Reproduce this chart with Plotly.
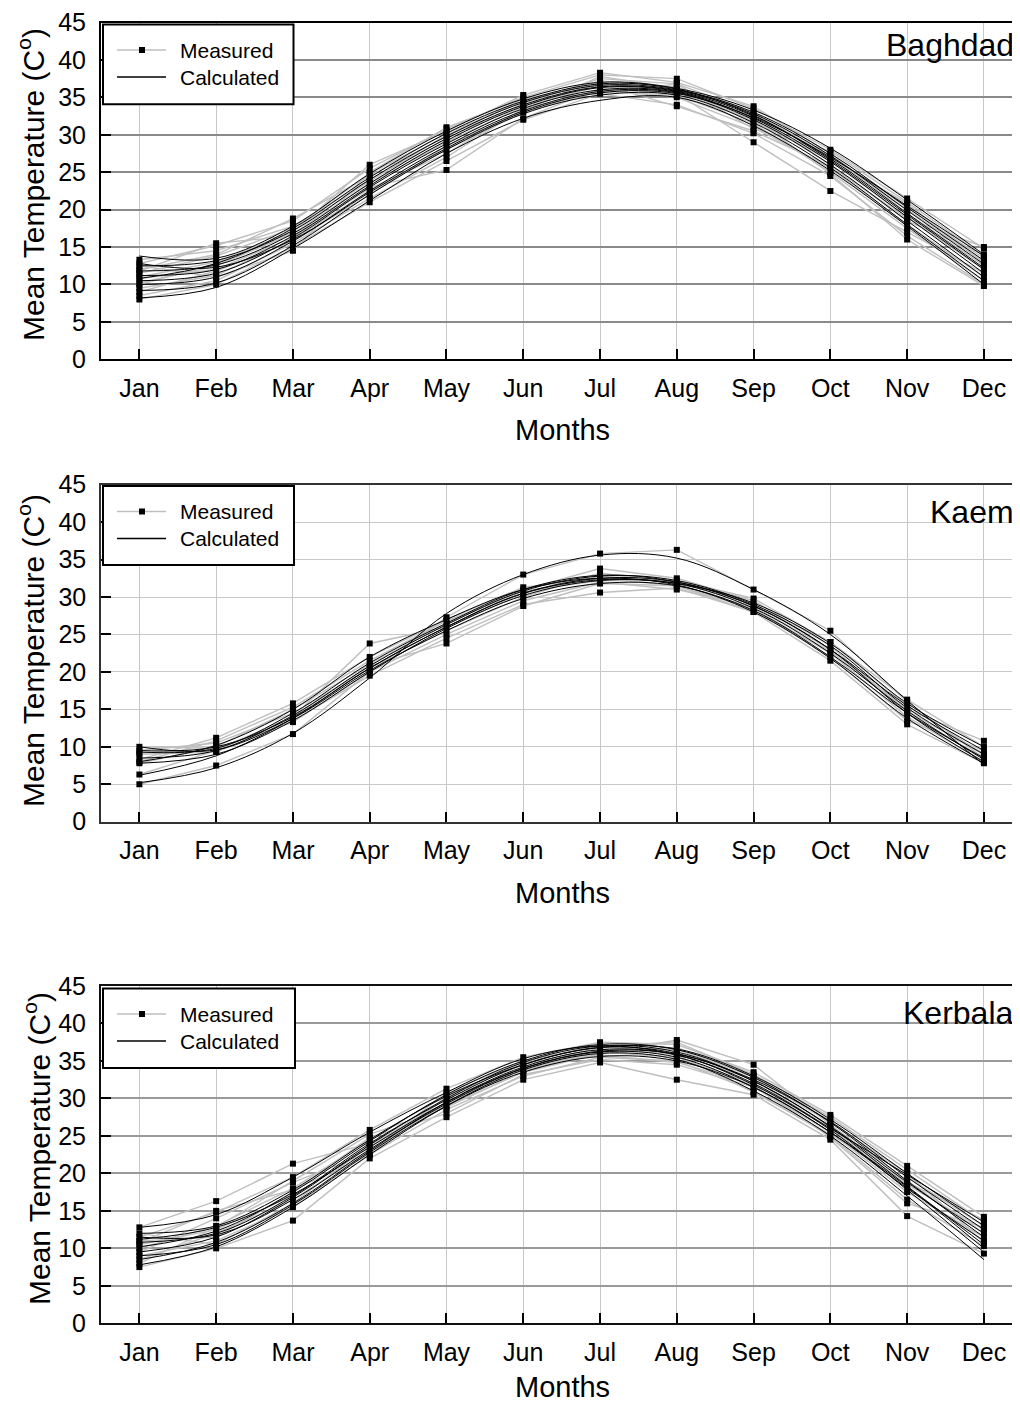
import plotly.graph_objects as go

# The page body has an 8px default margin; work in page pixels and convert.
OFF = 8
W, H = 1012, 1394
months = ["Jan", "Feb", "Mar", "Apr", "May", "Jun", "Jul", "Aug", "Sep", "Oct", "Nov", "Dec"]
month_idx = list(range(12))
stations = ["Baghdad", "Kaem", "Kerbala"]

# ---------------- Baghdad ----------------
baghdad_measured = [
    [10.2, 12.5, 16.8, 23.5, 29.0, 33.8, 36.5, 35.8, 32.0, 26.5, 19.0, 12.0],
    [11.5, 13.8, 17.5, 24.8, 30.2, 34.5, 37.2, 36.4, 32.8, 27.2, 20.3, 13.5],
    [8.0, 10.0, 15.0, 21.0, 26.5, 32.0, 35.5, 34.0, 30.2, 24.5, 16.5, 10.0],
    [12.8, 15.2, 18.5, 25.5, 30.8, 35.0, 38.0, 37.5, 33.5, 28.0, 21.5, 14.8],
    [9.5, 11.2, 16.0, 22.5, 28.0, 33.0, 36.0, 35.0, 31.0, 25.5, 18.0, 11.0],
    [13.3, 14.5, 17.8, 24.0, 29.5, 34.2, 37.5, 36.8, 33.0, 27.0, 20.0, 13.0],
    [10.8, 12.0, 16.3, 23.0, 25.3, 32.2, 36.2, 35.5, 29.0, 22.5, 17.0, 11.5],
    [11.0, 13.0, 17.0, 26.0, 30.5, 35.3, 38.3, 37.0, 33.8, 27.5, 19.5, 12.5],
    [8.5, 10.5, 15.5, 21.5, 27.0, 33.5, 35.8, 35.3, 31.5, 25.0, 17.5, 10.5],
    [12.0, 14.0, 18.8, 24.5, 29.8, 34.8, 36.8, 36.0, 32.5, 26.0, 18.5, 14.0],
    [9.0, 11.8, 15.8, 22.0, 28.5, 33.2, 37.8, 36.2, 31.8, 26.8, 20.8, 12.8],
    [10.0, 12.8, 17.2, 23.8, 30.0, 34.0, 36.8, 33.8, 30.5, 25.8, 18.8, 15.0],
    [11.8, 15.5, 16.5, 22.8, 27.5, 33.5, 37.0, 35.2, 32.2, 24.8, 16.0, 9.8],
    [12.5, 11.0, 14.5, 25.0, 31.0, 34.8, 35.5, 36.8, 30.8, 27.8, 21.0, 13.8],
]
baghdad_calculated = [
    [8.2, 9.6, 14.8, 21.2, 27.5, 32.2, 34.6, 35.0, 31.2, 25.2, 17.8, 10.0],
    [10.0, 11.0, 15.8, 22.5, 28.5, 33.2, 35.8, 35.6, 32.0, 26.0, 18.5, 11.0],
    [11.2, 12.0, 16.5, 23.2, 29.2, 33.8, 36.3, 35.8, 32.5, 26.8, 19.5, 12.2],
    [12.5, 13.2, 17.2, 24.0, 29.8, 34.3, 36.6, 36.0, 33.0, 27.5, 20.3, 13.2],
    [13.8, 13.5, 17.8, 24.8, 30.5, 34.8, 37.0, 36.2, 33.3, 28.2, 21.3, 14.0],
    [9.2, 10.2, 15.2, 22.0, 28.0, 32.8, 35.3, 35.3, 31.6, 25.6, 18.0, 10.5],
    [11.8, 12.6, 16.8, 23.5, 29.5, 34.0, 36.4, 35.9, 32.8, 27.2, 19.9, 12.7],
    [10.5, 11.5, 16.2, 23.0, 28.8, 33.5, 36.0, 35.7, 32.2, 26.4, 19.0, 11.5],
    [12.8, 12.3, 16.0, 22.3, 28.2, 33.0, 35.6, 35.5, 32.3, 27.0, 20.5, 13.8],
    [10.8, 12.8, 17.5, 24.3, 30.2, 34.5, 36.8, 36.1, 32.6, 26.6, 19.3, 12.0],
]

# ---------------- Kaem ----------------
kaem_measured = [
    [5.0, 7.5, 11.7, 20.0, 27.3, 33.0, 35.8, 36.3, 31.0, 25.5, 16.0, 8.5],
    [6.3, 9.5, 14.0, 23.8, 26.0, 30.5, 32.8, 32.0, 29.0, 24.0, 15.5, 9.0],
    [7.8, 10.0, 15.0, 21.0, 26.5, 31.0, 33.8, 32.5, 29.5, 23.5, 14.5, 8.5],
    [8.3, 11.2, 15.8, 22.0, 27.0, 31.3, 32.5, 31.5, 28.5, 22.5, 14.0, 8.0],
    [9.0, 9.3, 13.5, 19.5, 24.5, 29.0, 30.6, 31.2, 28.0, 21.5, 13.0, 7.8],
    [9.5, 10.5, 14.5, 20.5, 25.5, 30.0, 33.2, 31.8, 28.3, 22.0, 13.5, 9.5],
    [10.0, 9.8, 13.3, 20.0, 25.0, 29.5, 32.0, 31.0, 28.8, 23.0, 15.0, 10.8],
    [8.0, 10.8, 15.3, 21.5, 26.8, 30.8, 32.2, 32.2, 29.8, 24.0, 16.3, 10.0],
    [9.2, 9.6, 14.0, 20.8, 23.8, 28.8, 31.8, 31.5, 28.0, 22.8, 14.8, 9.0],
]
kaem_calculated = [
    [5.2, 7.2, 11.8, 19.2, 27.8, 33.0, 35.6, 35.2, 31.0, 25.0, 16.2, 7.6],
    [6.2, 8.8, 13.8, 20.5, 26.0, 30.5, 32.5, 32.0, 28.8, 23.0, 14.5, 8.0],
    [7.8, 9.0, 13.5, 20.0, 25.8, 30.2, 32.2, 31.8, 28.5, 22.5, 14.8, 8.3],
    [8.5, 9.5, 14.2, 20.8, 26.3, 30.8, 32.8, 32.2, 29.0, 23.5, 15.2, 9.0],
    [9.3, 9.8, 14.5, 21.2, 26.5, 31.0, 32.9, 32.0, 28.8, 23.0, 15.5, 9.5],
    [10.0, 9.6, 13.8, 20.2, 25.5, 29.8, 31.8, 31.5, 28.2, 22.0, 14.5, 8.5],
    [8.0, 10.2, 15.0, 22.0, 27.0, 31.0, 32.5, 31.6, 28.0, 21.8, 13.8, 7.8],
    [9.5, 10.0, 14.0, 20.5, 26.0, 30.5, 32.3, 31.8, 29.2, 23.8, 15.8, 10.0],
]

# ---------------- Kerbala ----------------
kerbala_measured = [
    [12.8, 16.3, 21.3, 24.0, 29.0, 33.5, 36.0, 37.8, 34.5, 26.5, 19.0, 12.0],
    [7.5, 10.0, 13.7, 22.0, 27.5, 32.5, 34.8, 32.5, 30.5, 24.5, 14.3, 9.3],
    [10.5, 12.5, 17.0, 23.5, 30.0, 34.0, 36.5, 36.0, 32.5, 26.0, 18.5, 12.5],
    [11.5, 14.8, 19.5, 25.8, 31.3, 35.5, 37.5, 37.2, 33.5, 27.8, 21.0, 14.2],
    [9.0, 11.0, 15.5, 22.5, 28.5, 33.0, 35.5, 35.0, 31.0, 25.0, 16.5, 10.3],
    [10.0, 13.0, 18.0, 24.5, 30.5, 34.5, 36.8, 36.5, 33.0, 27.0, 19.5, 13.0],
    [8.5, 12.0, 16.5, 23.0, 29.5, 33.8, 36.2, 35.5, 32.0, 26.0, 18.0, 11.0],
    [11.0, 11.5, 17.5, 24.8, 28.0, 33.2, 35.2, 34.5, 31.5, 25.5, 17.5, 11.5],
    [9.5, 14.0, 18.8, 22.8, 30.8, 35.0, 37.0, 37.5, 33.2, 27.5, 20.5, 13.5],
    [12.0, 10.5, 16.0, 23.8, 29.2, 34.2, 35.8, 34.8, 31.8, 24.8, 16.0, 12.8],
    [8.0, 12.8, 19.0, 25.2, 28.8, 33.6, 36.4, 36.8, 32.8, 26.8, 20.0, 10.8],
    [10.8, 15.0, 17.8, 22.5, 30.2, 34.8, 37.2, 35.8, 30.8, 25.2, 18.8, 13.8],
]
kerbala_calculated = [
    [7.8, 10.2, 15.5, 22.5, 29.0, 33.8, 36.0, 35.2, 31.0, 25.0, 17.0, 8.5],
    [8.5, 10.8, 16.0, 23.0, 29.5, 34.2, 36.5, 35.8, 31.8, 25.8, 17.8, 9.5],
    [9.5, 11.5, 16.8, 23.8, 30.0, 34.8, 37.0, 36.2, 32.3, 26.2, 18.3, 10.5],
    [10.2, 12.3, 17.5, 24.3, 30.5, 35.0, 37.2, 36.5, 32.8, 26.8, 19.0, 11.5],
    [11.5, 11.8, 16.5, 23.2, 29.3, 34.0, 36.3, 35.9, 32.5, 26.9, 19.5, 12.5],
    [12.0, 13.0, 17.8, 24.5, 30.3, 34.5, 36.8, 36.0, 32.3, 26.3, 18.8, 12.0],
    [12.8, 14.5, 19.5, 25.5, 30.8, 35.3, 37.0, 35.8, 32.0, 26.0, 19.8, 13.5],
    [9.0, 10.5, 15.8, 22.8, 29.0, 33.5, 35.6, 35.0, 31.5, 25.5, 18.0, 11.0],
    [10.8, 12.0, 17.0, 24.0, 29.8, 34.5, 36.8, 36.6, 33.0, 27.2, 20.0, 13.0],
    [11.2, 12.8, 17.2, 23.5, 29.5, 34.0, 36.2, 35.5, 31.5, 25.5, 18.2, 10.0],
]

measured_sets = [baghdad_measured, kaem_measured, kerbala_measured]
calculated_sets = [baghdad_calculated, kaem_calculated, kerbala_calculated]

FONT = "Liberation Sans, Arial, sans-serif"


def px(p):  # page x pixel -> paper
    return (p - OFF) / W


def py(p):  # page y pixel -> paper
    return 1 - (p - OFF) / H


# panel pixel geometry in page px (top, bottom of plot area)
panels = [(22.5, 359.3), (484.7, 821.7), (986.0, 1323.3)]
hgrid_colors = ["#8a8a8a", "#c8c8c8", "#9a9a9a"]
hgrid_widths = [2, 1, 1.5]
axis_line_colors = ["#000000", "#333333", "#111111"]
axis_line_widths = [2, 1.5, 2]
months_title_y = [430, 893, 1387]
ytitle_center = [(31, 185), (31, 651), (37, 1149)]
station_y = [45, 512, 1013]
legend_boxes = [(103, 24.5, 293.5, 104.3), (103, 486, 294, 565), (103, 988.5, 295, 1068)]

fig = go.Figure()

for i in range(3):
    xa = "x" if i == 0 else f"x{i+1}"
    ya = "y" if i == 0 else f"y{i+1}"
    for j, vals in enumerate(measured_sets[i]):
        fig.add_trace(go.Scatter(
            x=month_idx, y=vals, mode="lines+markers", name="Measured",
            line=dict(color="#bfbfbf", width=1.4),
            marker=dict(symbol="square", size=6, color="black"),
            xaxis=xa, yaxis=ya, showlegend=False, hoverinfo="skip",
        ))
    for j, vals in enumerate(calculated_sets[i]):
        fig.add_trace(go.Scatter(
            x=month_idx, y=vals, mode="lines", name="Calculated",
            line=dict(color="black", width=1.0, shape="spline", smoothing=1.0),
            xaxis=xa, yaxis=ya, showlegend=False, hoverinfo="skip",
        ))

layout = dict(
    width=W, height=H,
    margin=dict(l=0, r=0, t=0, b=0, pad=0, autoexpand=False),
    paper_bgcolor="white", plot_bgcolor="white",
    font=dict(family=FONT, color="black"),
    showlegend=False,
)

annotations = []
shapes = []
for i in range(3):
    top, bot = panels[i]
    xk = "xaxis" if i == 0 else f"xaxis{i+1}"
    yk = "yaxis" if i == 0 else f"yaxis{i+1}"
    layout[xk] = dict(
        domain=[px(101), 1.0], range=[-0.5, 11.47],
        tickmode="array", tickvals=month_idx, ticktext=months,
        ticks="inside", ticklen=10, tickwidth=2, tickcolor="black",
        showline=True, linecolor=axis_line_colors[i], linewidth=axis_line_widths[i],
        mirror=True, automargin=False,
        showgrid=True, gridcolor="#c8c8c8", gridwidth=1, zeroline=False,
        tickfont=dict(size=25, family=FONT, color="black"),
        ticklabelstandoff=6,
        anchor="y" if i == 0 else f"y{i+1}",
    )
    layout[yk] = dict(
        domain=[py(bot), py(top)], range=[0, 45],
        tickmode="linear", tick0=0, dtick=5,
        ticks="inside", ticklen=10, tickwidth=2, tickcolor="black",
        showline=True, linecolor=axis_line_colors[i], linewidth=axis_line_widths[i],
        automargin=False,
        showgrid=True, gridcolor=hgrid_colors[i], gridwidth=hgrid_widths[i], zeroline=False,
        tickfont=dict(size=25, family=FONT, color="black"),
        ticklabelstandoff=8,
        anchor="x" if i == 0 else f"x{i+1}",
    )
    # legend box drawn in page pixels
    lx0, ly0, lx1, ly1 = legend_boxes[i]
    shapes.append(dict(type="rect", xref="paper", yref="paper",
                       x0=px(lx0), x1=px(lx1), y0=py(ly1), y1=py(ly0),
                       line=dict(color="black", width=2), fillcolor="white", layer="above"))
    y_m = ly0 + 25.5
    y_c = ly0 + 52.5
    shapes.append(dict(type="line", xref="paper", yref="paper",
                       x0=px(lx0 + 14), x1=px(lx0 + 63), y0=py(y_m), y1=py(y_m),
                       line=dict(color="#bfbfbf", width=1.4), layer="above"))
    shapes.append(dict(type="rect", xref="paper", yref="paper",
                       x0=px(lx0 + 36), x1=px(lx0 + 42), y0=py(y_m + 3), y1=py(y_m - 3),
                       line=dict(width=0), fillcolor="black", layer="above"))
    shapes.append(dict(type="line", xref="paper", yref="paper",
                       x0=px(lx0 + 14), x1=px(lx0 + 63), y0=py(y_c), y1=py(y_c),
                       line=dict(color="black", width=1.5), layer="above"))
    for txt, yy in (("Measured", y_m), ("Calculated", y_c)):
        annotations.append(dict(
            text=txt, x=px(lx0 + 75), y=py(yy), xref="paper", yref="paper",
            xanchor="left", yanchor="middle", showarrow=False,
            font=dict(size=21, family=FONT, color="black"),
        ))
    annotations.append(dict(
        text=stations[i], x=px(1016), y=py(station_y[i]), xref="paper", yref="paper",
        xanchor="right", yanchor="middle", showarrow=False,
        font=dict(size=32, family=FONT, color="black"),
    ))
    annotations.append(dict(
        text="Months", x=px(562), y=py(months_title_y[i]), xref="paper", yref="paper",
        xanchor="center", yanchor="middle", showarrow=False,
        font=dict(size=29, family=FONT, color="black"),
    ))
    annotations.append(dict(
        text="Mean Temperature (C<sup>o</sup>)",
        x=px(ytitle_center[i][0]), y=py(ytitle_center[i][1]), xref="paper", yref="paper",
        xanchor="center", yanchor="middle", textangle=-90, showarrow=False,
        font=dict(size=30, family=FONT, color="black"),
    ))

layout["annotations"] = annotations
layout["shapes"] = shapes
fig.update_layout(**layout)
fig.write_html("out.html")
